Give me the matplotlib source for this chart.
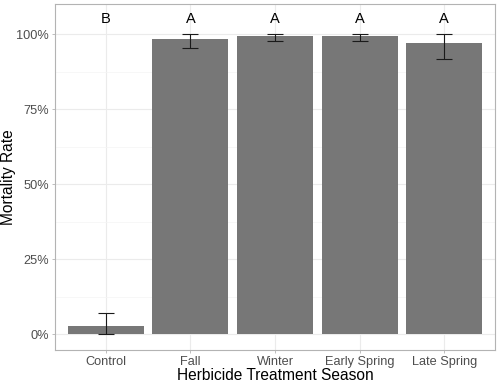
import matplotlib

matplotlib.use("Agg")
import matplotlib.pyplot as plt
from matplotlib.ticker import FixedLocator, PercentFormatter

plt.rcParams["font.family"] = ["Liberation Sans", "DejaVu Sans"]

SEASONS = ["Control", "Fall", "Winter", "Early Spring", "Late Spring"]
MORTALITY = [0.026, 0.983, 0.994, 0.994, 0.971]
ERR_LOW = [0.0, 0.954, 0.977, 0.977, 0.919]
ERR_HIGH = [0.070, 1.0, 1.0, 1.0, 1.0]
LETTERS = ["B", "A", "A", "A", "A"]
LETTER_Y = 1.05

BAR_COLOR = "#777777"
GRID_COLOR = "#EBEBEB"
BORDER_COLOR = "#B3B3B3"


def main() -> None:
    fig = plt.figure(figsize=(4.99, 3.85), dpi=100)
    ax = fig.add_axes([55 / 499, 35 / 385, 440 / 499, 346.5 / 385])

    xs = list(range(1, len(SEASONS) + 1))
    ax.bar(xs, MORTALITY, width=0.9, color=BAR_COLOR, zorder=2)

    lower = [m - lo for m, lo in zip(MORTALITY, ERR_LOW)]
    upper = [hi - m for m, hi in zip(MORTALITY, ERR_HIGH)]
    ax.errorbar(
        xs,
        MORTALITY,
        yerr=[lower, upper],
        fmt="none",
        ecolor="#1A1A1A",
        elinewidth=0.8,
        capsize=5.6,
        capthick=0.8,
        zorder=3,
    )

    for x, letter in zip(xs, LETTERS):
        ax.text(x, LETTER_Y, letter, ha="center", va="center", fontsize=10.5, color="black")

    ax.set_xlim(0.4, len(SEASONS) + 0.6)
    ax.set_ylim(-0.0525, 1.1025)
    ax.set_xticks(xs)
    ax.set_xticklabels(SEASONS)
    ax.set_yticks([0, 0.25, 0.5, 0.75, 1.0])
    ax.yaxis.set_major_formatter(PercentFormatter(xmax=1.0, decimals=0))
    ax.yaxis.set_minor_locator(FixedLocator([0.125, 0.375, 0.625, 0.875]))

    ax.grid(True, which="major", color=GRID_COLOR, linewidth=0.8, zorder=0)
    ax.grid(True, which="minor", axis="y", color="#F4F4F4", linewidth=0.5, zorder=0)
    ax.set_axisbelow(True)

    ax.tick_params(axis="both", which="major", length=2.5, width=0.6, color=BORDER_COLOR,
                   labelsize=9.2, labelcolor="#4D4D4D", pad=2)
    ax.tick_params(axis="y", which="minor", length=0)

    for spine in ax.spines.values():
        spine.set_color(BORDER_COLOR)
        spine.set_linewidth(0.8)

    ax.set_xlabel("Herbicide Treatment Season", fontsize=11.2, labelpad=0)
    ax.set_ylabel("Mortality Rate", fontsize=11.2)
    ax.yaxis.label.set_va("center")
    ax.yaxis.set_label_coords(-46 / 440, 0.5)

    fig.savefig("out.png", dpi=100)


if __name__ == "__main__":
    main()
